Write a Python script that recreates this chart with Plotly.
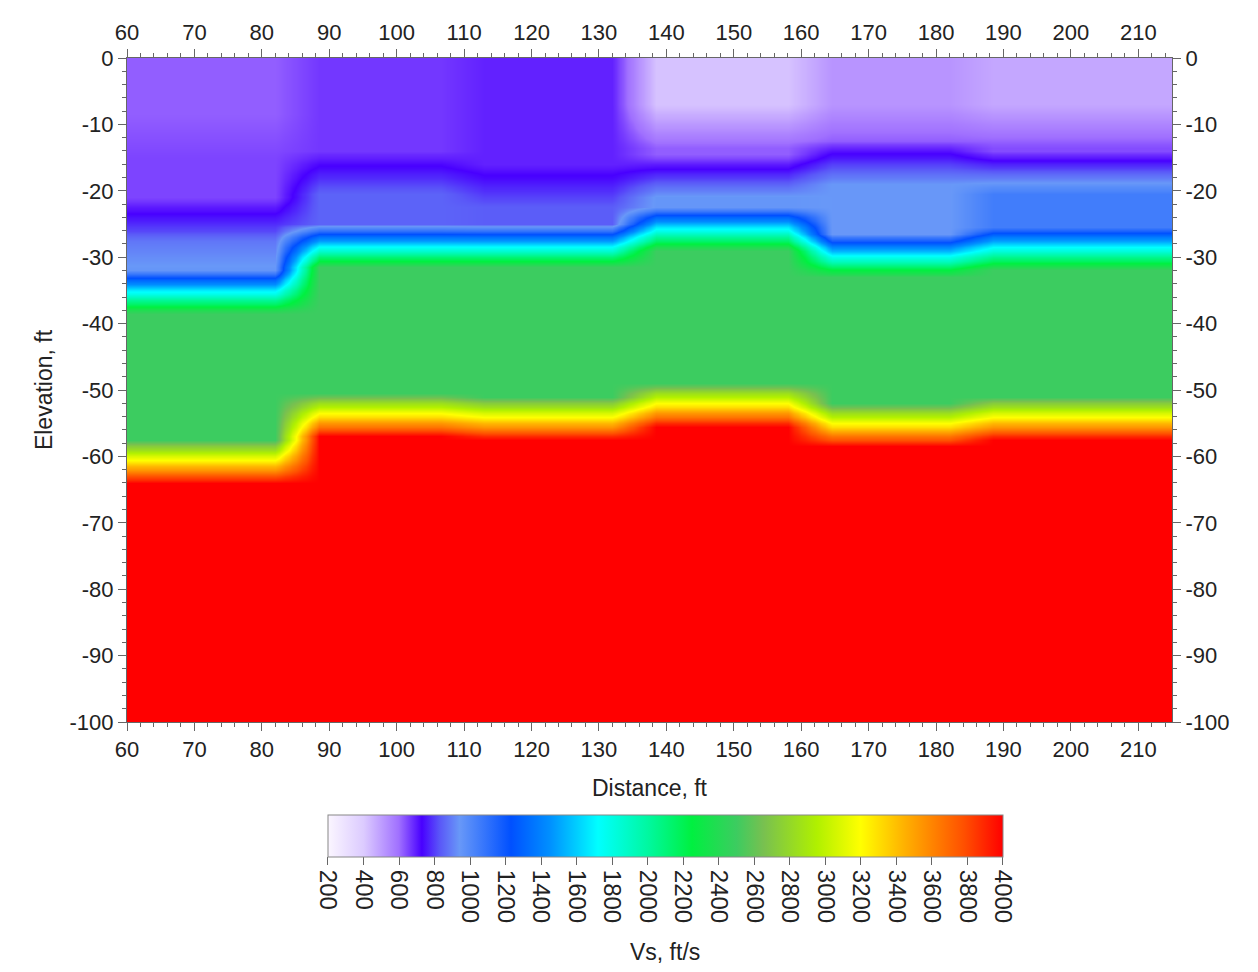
import numpy as np
import plotly.graph_objects as go

# ---------------- data ----------------
# lateral segments of the layered Vs model (distance, ft)
seg_left = [60.0, 85.5, 110.0, 135.5, 161.5, 185.5]
seg_right = [85.5, 110.0, 135.5, 161.5, 185.5, 215.0]

# layer tops (elevation, ft) and Vs (ft/s) for each segment
seg1_tops = [0.0, -12.0, -24.5, -29.5, -35.4, -61.0]
seg1_vs = [620, 650, 860, 960, 2500, 4000]
seg2_tops = [0.0, -17.4, -28.4, -53.6]
seg2_vs = [665, 850, 2500, 4000]
seg3_tops = [0.0, -19.5, -28.4, -54.2]
seg3_vs = [690, 840, 2500, 4000]
seg4_tops = [0.0, -10.5, -18.0, -25.9, -52.4]
seg4_vs = [420, 620, 950, 2500, 4000]
seg5_tops = [0.0, -10.5, -16.0, -30.0, -55.4]
seg5_vs = [520, 640, 940, 2500, 4000]
seg6_tops = [0.0, -10.5, -17.5, -29.0, -54.4]
seg6_vs = [480, 640, 1050, 2500, 4000]

# axis tick values / labels
x_ticks = [60, 70, 80, 90, 100, 110, 120, 130, 140, 150, 160, 170, 180, 190, 200, 210]
y_ticks = [0, -10, -20, -30, -40, -50, -60, -70, -80, -90, -100]
y_ticktext = ["0", "-10", "-20", "-30", "-40", "-50", "-60", "-70", "-80", "-90", "-100"]
cbar_ticks = [200, 400, 600, 800, 1000, 1200, 1400, 1600, 1800, 2000,
              2200, 2400, 2600, 2800, 3000, 3200, 3400, 3600, 3800, 4000]

# ---------------- build the gridded section ----------------
seg_tops = [seg1_tops, seg2_tops, seg3_tops, seg4_tops, seg5_tops, seg6_tops]
seg_vs = [seg1_vs, seg2_vs, seg3_vs, seg4_vs, seg5_vs, seg6_vs]

step = 0.5
xg = np.arange(60.0, 215.0 + 1e-9, step)
yg = np.arange(0.0, -100.0 - 1e-9, -step)
Z = np.zeros((len(yg), len(xg)))
for j, xv in enumerate(xg):
    k = len(seg_left) - 1
    for s in range(len(seg_left)):
        if seg_left[s] <= xv < seg_right[s]:
            k = s
            break
    tops, vs = seg_tops[k], seg_vs[k]
    for i, yv in enumerate(yg):
        idx = 0
        for m in range(len(tops)):
            if yv <= tops[m]:
                idx = m
        Z[i, j] = vs[idx]


# gridding smoothing (box filter ~6 ft), as the contouring software does
def box(a, axis, n):
    pad = n // 2
    a = np.moveaxis(a, axis, 0)
    p = np.concatenate([np.repeat(a[:1], pad, 0), a, np.repeat(a[-1:], pad, 0)], 0)
    c = np.cumsum(np.concatenate([np.zeros((1,) + p.shape[1:]), p], 0), 0)
    out = (c[n:] - c[:-n]) / n
    return np.moveaxis(out, 0, axis)


Zs = box(Z, 0, 13)
Zs = box(Zs, 1, 13)
Zs = np.round(Zs, 1)

colorscale = [
    [0.000, "#fbf6ff"],
    [0.053, "#dccbff"],
    [0.105, "#a070ff"],
    [0.139, "#4800ff"],
    [0.166, "#5a58f8"],
    [0.195, "#6898f8"],
    [0.271, "#0050ff"],
    [0.329, "#0090ff"],
    [0.400, "#00ffff"],
    [0.474, "#00f8a0"],
    [0.539, "#00f040"],
    [0.605, "#3ccc60"],
    [0.645, "#78c050"],
    [0.724, "#b0f000"],
    [0.789, "#ffff00"],
    [0.855, "#ffb000"],
    [0.942, "#ff5000"],
    [1.000, "#ff0000"],
]

FONT = "Liberation Sans, Arial, sans-serif"
TXT = "#222222"
AX = "#666666"

fig = go.Figure()
fig.add_trace(go.Heatmap(
    x=xg, y=yg, z=Zs, zmin=200, zmax=4000, zsmooth="best",
    colorscale=colorscale,
    colorbar=dict(
        orientation="h", x=0.5153, xanchor="center", y=-0.1397, yanchor="top",
        len=675, lenmode="pixels", thickness=42, thicknessmode="pixels",
        xpad=0, ypad=0, outlinewidth=1, outlinecolor="#888888",
        ticks="outside", ticklen=8, tickcolor=AX,
        tickmode="array", tickvals=cbar_ticks, ticktext=[str(t) for t in cbar_ticks],
        tickangle=90, tickfont=dict(family=FONT, size=24, color=TXT),
    ),
    hovertemplate="x=%{x}<br>elev=%{y}<br>Vs=%{z}<extra></extra>",
))
fig.add_trace(go.Scatter(x=[None], y=[None], xaxis="x2", yaxis="y2",
                         showlegend=False, hoverinfo="skip"))

axis_common = dict(
    showgrid=False, zeroline=False, showline=True, linecolor=AX, linewidth=1,
    ticks="outside", ticklen=8, tickwidth=1, tickcolor=AX,
    tickfont=dict(family=FONT, size=22, color=TXT),
)
xcommon = dict(axis_common, range=[60, 215], tickmode="array", tickvals=x_ticks,
               ticktext=[str(t) for t in x_ticks],
               minor=dict(dtick=2, tick0=60, ticklen=4, tickcolor=AX, ticks="outside"))
ycommon = dict(axis_common, range=[-100, 0], tickmode="array", tickvals=y_ticks,
               ticktext=y_ticktext,
               minor=dict(dtick=2, tick0=0, ticklen=4, tickcolor=AX, ticks="outside"))

fig.update_layout(
    width=1250, height=964,
    margin=dict(l=119, r=86, t=41, b=250),
    paper_bgcolor="white", plot_bgcolor="white",
    font=dict(family=FONT, color=TXT),
    showlegend=False,
    xaxis=dict(xcommon, side="bottom",
               title=dict(text="Distance, ft", font=dict(family=FONT, size=23, color=TXT), standoff=18)),
    yaxis=dict(ycommon, side="left",
               title=dict(text="Elevation, ft", font=dict(family=FONT, size=23, color=TXT), standoff=10)),
    xaxis2=dict(xcommon, side="top", overlaying="x", anchor="y"),
    yaxis2=dict(ycommon, side="right", overlaying="y", anchor="x"),
    annotations=[dict(text="Vs, ft/s", xref="paper", yref="paper", x=0.5153, y=-0.3462,
                      xanchor="center", yanchor="middle", showarrow=False,
                      font=dict(family=FONT, size=23, color=TXT))],
)

fig.write_html("out.html")
